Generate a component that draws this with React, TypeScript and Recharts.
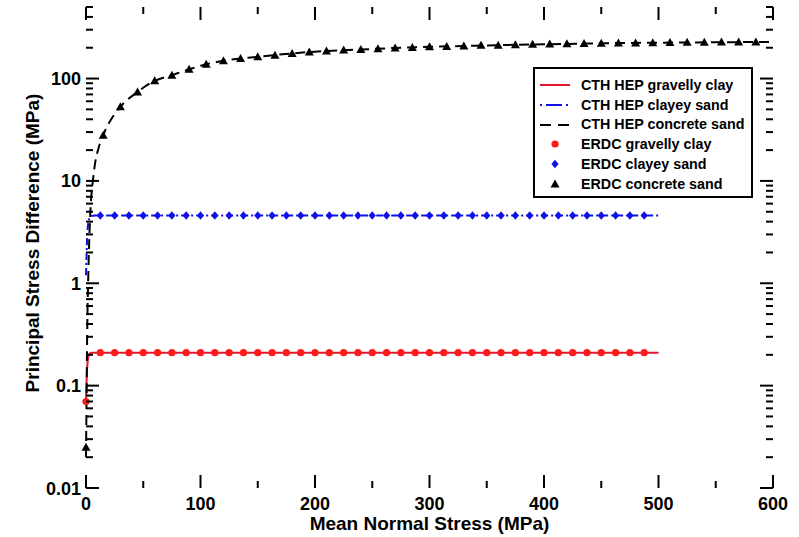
import React from 'react';
import { ComposedChart, Line, Scatter, XAxis, YAxis, Legend } from 'recharts';

// axis ticks
const xTicks = [0, 50, 100, 150, 200, 250, 300, 350, 400, 450, 500, 550, 600];
const xLabeled = [0, 100, 200, 300, 400, 500, 600];
const yMajor = [0.01, 0.1, 1, 10, 100];
const yTicks = yMajor
  .flatMap((d) => [1, 2, 3, 4, 5, 6, 7, 8, 9].map((k) => +(k * d).toPrecision(3)))
  .filter((v) => v <= 500);
const X_MIN = 0;
const X_MAX = 600;
const Y_MIN = 0.01;
const Y_MAX = 500;

// CTH HEP model curves
const cthGravellyX = [0, 1, 2, 3, 5, 500];
const cthGravellyY = [0.07, 0.15, 0.19, 0.205, 0.21, 0.21];

const cthClayeyX = [0, 1, 2, 4, 8, 500];
const cthClayeyY = [1.2, 2.8, 3.9, 4.5, 4.6, 4.6];

const cthConcreteX = [0, 0.5, 1, 2, 3, 4, 6, 8, 11, 15, 22, 30, 45, 60, 75, 90, 105, 120, 150, 180, 210, 240, 270, 300, 330, 360, 400, 450, 500, 550, 600];
const cthConcreteY = [0.02, 0.08, 0.3, 1.2, 3, 5.5, 10, 15, 21, 28, 40, 53, 74, 95, 108, 123, 138, 149, 163, 176, 186, 192, 199, 204, 208, 212, 216, 221, 224, 226, 228];

// ERDC test points
const erdcGravellyX = [0, 12.5, 25, 37.5, 50, 62.5, 75, 87.5, 100, 112.5, 125, 137.5, 150, 162.5, 175, 187.5, 200, 212.5, 225, 237.5, 250, 262.5, 275, 287.5, 300, 312.5, 325, 337.5, 350, 362.5, 375, 387.5, 400, 412.5, 425, 437.5, 450, 462.5, 475, 487.5];
const erdcGravellyY = [0.07, 0.21, 0.21, 0.21, 0.21, 0.21, 0.21, 0.21, 0.21, 0.21, 0.21, 0.21, 0.21, 0.21, 0.21, 0.21, 0.21, 0.21, 0.21, 0.21, 0.21, 0.21, 0.21, 0.21, 0.21, 0.21, 0.21, 0.21, 0.21, 0.21, 0.21, 0.21, 0.21, 0.21, 0.21, 0.21, 0.21, 0.21, 0.21, 0.21];

const erdcClayeyX = [12.5, 25, 37.5, 50, 62.5, 75, 87.5, 100, 112.5, 125, 137.5, 150, 162.5, 175, 187.5, 200, 212.5, 225, 237.5, 250, 262.5, 275, 287.5, 300, 312.5, 325, 337.5, 350, 362.5, 375, 387.5, 400, 412.5, 425, 437.5, 450, 462.5, 475, 487.5];
const erdcClayeyY = [4.6, 4.6, 4.6, 4.6, 4.6, 4.6, 4.6, 4.6, 4.6, 4.6, 4.6, 4.6, 4.6, 4.6, 4.6, 4.6, 4.6, 4.6, 4.6, 4.6, 4.6, 4.6, 4.6, 4.6, 4.6, 4.6, 4.6, 4.6, 4.6, 4.6, 4.6, 4.6, 4.6, 4.6, 4.6, 4.6, 4.6, 4.6, 4.6];

const erdcConcreteX = [0, 15, 30, 45, 60, 75, 90, 105, 120, 135, 150, 165, 180, 195, 210, 225, 240, 255, 270, 285, 300, 315, 330, 345, 360, 375, 390, 405, 420, 435, 450, 465, 480, 495, 510, 525, 540, 555, 570, 585];
const erdcConcreteY = [0.025, 28, 53, 74, 95, 108, 123, 138, 149, 157, 163, 169, 176, 182, 186, 190, 192, 196, 199, 201, 204, 206, 208, 211, 212, 214, 216, 217, 219, 220, 221, 222, 223, 224, 225, 226, 226, 227, 228, 228];

const toPoints = (xs: number[], ys: number[]) => xs.map((x, i) => ({ x, y: ys[i] }));

const RED = '#e3162f';
const RED_DOT = '#ff1a1a';
const BLUE = '#1010e8';
const FONT = '"Liberation Sans", Arial, Helvetica, sans-serif';
const axisLine = { stroke: '#000', strokeWidth: 2 };

// inward tick marks (and tick labels) along the frame, one scatter per side
const bottomTicks = xTicks.map((x) => ({ x, y: Y_MIN, major: xLabeled.includes(x) }));
const topTicks = xTicks.map((x) => ({ x, y: Y_MAX, major: xLabeled.includes(x) }));
const leftTicks = yTicks.map((y) => ({ x: X_MIN, y, major: yMajor.includes(y) }));
const rightTicks = yTicks.map((y) => ({ x: X_MAX, y, major: yMajor.includes(y) }));

const tickLen = (p: any) => (p.payload && p.payload.major ? 13 : 7);

const upTick = (p: any) => (
  <g>
    <rect x={p.cx - 1} y={p.cy - tickLen(p)} width={2} height={tickLen(p)} fill="#000" />
    {p.payload.major && (
      <text x={p.cx} y={p.cy + 22} textAnchor="middle" fontFamily={FONT} fontWeight="bold" fontSize={18} fill="#000">
        {String(p.payload.x)}
      </text>
    )}
  </g>
);
const downTick = (p: any) => <path d={`M${p.cx},${p.cy}v${tickLen(p)}`} stroke="#000" strokeWidth={2} fill="none" />;
const rightwardTick = (p: any) => (
  <g>
    <rect x={p.cx} y={p.cy - 1} width={tickLen(p)} height={2} fill="#000" />
    {p.payload.major && (
      <text x={p.cx - 5} y={p.cy + 6.5} textAnchor="end" fontFamily={FONT} fontWeight="bold" fontSize={18} fill="#000">
        {String(p.payload.y)}
      </text>
    )}
  </g>
);
const leftwardTick = (p: any) => <path d={`M${p.cx},${p.cy}h${-tickLen(p)}`} stroke="#000" strokeWidth={2} fill="none" />;

const circleDot = (p: any) => <circle cx={p.cx} cy={p.cy} r={3.6} fill={RED_DOT} />;
const diamondDot = (p: any) => (
  <path d={`M${p.cx},${p.cy - 4.2}L${p.cx + 3.6},${p.cy}L${p.cx},${p.cy + 4.2}L${p.cx - 3.6},${p.cy}Z`} fill={BLUE} />
);
const triangleDot = (p: any) => (
  <path d={`M${p.cx},${p.cy - 4.5}L${p.cx + 4.5},${p.cy + 3.5}L${p.cx - 4.5},${p.cy + 3.5}Z`} fill="#000" />
);

const legendRows = [
  { label: 'CTH HEP gravelly clay', line: RED, dash: undefined as string | undefined, mark: null as null | string },
  { label: 'CTH HEP clayey sand', line: BLUE, dash: '2 4 16 4', mark: null },
  { label: 'CTH HEP concrete sand', line: '#000', dash: '11 7', mark: null },
  { label: 'ERDC gravelly clay', line: null, dash: undefined, mark: 'circle' },
  { label: 'ERDC clayey sand', line: null, dash: undefined, mark: 'diamond' },
  { label: 'ERDC concrete sand', line: null, dash: undefined, mark: 'triangle' },
];

const LegendBox = () => (
  <div style={{ border: '2px solid #000', background: '#fff', padding: '6px 0 2px 0', width: 216 }}>
    {legendRows.map((r) => (
      <div key={r.label} style={{ display: 'flex', alignItems: 'center', height: 19.8 }}>
        <svg width={46} height={19.8} style={{ flex: 'none' }}>
          {r.line && <line x1={5} y1={10} x2={35} y2={10} stroke={r.line} strokeWidth={2} strokeDasharray={r.dash} />}
          {r.mark === 'circle' && circleDot({ cx: 20, cy: 10 })}
          {r.mark === 'diamond' && diamondDot({ cx: 20, cy: 10 })}
          {r.mark === 'triangle' && triangleDot({ cx: 20, cy: 10 })}
        </svg>
        <span style={{ fontFamily: FONT, fontWeight: 'bold', fontSize: 14.3, color: '#000', whiteSpace: 'nowrap' }}>{r.label}</span>
      </div>
    ))}
  </div>
);

const titleStyle: React.CSSProperties = {
  position: 'absolute',
  fontFamily: FONT,
  fontWeight: 'bold',
  fontSize: 19,
  lineHeight: '18px',
  color: '#000',
  whiteSpace: 'nowrap',
  textAlign: 'center',
  width: 400,
};

export default function App() {
  return (
    <div style={{ position: 'absolute', left: 0, top: 0, width: 799, height: 537, background: '#fff' }}>
      <ComposedChart width={799} height={537} margin={{ top: 7, right: 26, left: 86, bottom: 49 }}>
        <XAxis
          dataKey="x"
          type="number"
          domain={[X_MIN, X_MAX]}
          height={0}
          tick={false}
          tickLine={false}
          axisLine={axisLine}
        />
        <XAxis
          xAxisId="top"
          orientation="top"
          type="number"
          domain={[X_MIN, X_MAX]}
          height={0}
          tick={false}
          tickLine={false}
          axisLine={axisLine}
        />
        <YAxis
          type="number"
          scale="log"
          domain={[Y_MIN, Y_MAX]}
          width={0}
          tick={false}
          tickLine={false}
          axisLine={axisLine}
        />
        <YAxis
          yAxisId="right"
          orientation="right"
          type="number"
          scale="log"
          domain={[Y_MIN, Y_MAX]}
          width={0}
          tick={false}
          tickLine={false}
          axisLine={axisLine}
        />
        <Line
          data={toPoints(cthGravellyX, cthGravellyY)}
          dataKey="y"
          type="monotone"
          stroke={RED}
          strokeWidth={2}
          dot={false}
          isAnimationActive={false}
        />
        <Line
          data={toPoints(cthClayeyX, cthClayeyY)}
          dataKey="y"
          type="monotone"
          stroke={BLUE}
          strokeWidth={2}
          strokeDasharray="7 3 2 3"
          dot={false}
          isAnimationActive={false}
        />
        <Line
          data={toPoints(cthConcreteX, cthConcreteY)}
          dataKey="y"
          type="monotone"
          stroke="#000"
          strokeWidth={2}
          strokeDasharray="10 6"
          dot={false}
          isAnimationActive={false}
        />
        <Scatter data={toPoints(erdcGravellyX, erdcGravellyY)} dataKey="y" shape={circleDot} isAnimationActive={false} />
        <Scatter data={toPoints(erdcClayeyX, erdcClayeyY)} dataKey="y" shape={diamondDot} isAnimationActive={false} />
        <Scatter data={toPoints(erdcConcreteX, erdcConcreteY)} dataKey="y" shape={triangleDot} isAnimationActive={false} />
        <Scatter data={bottomTicks} dataKey="y" shape={upTick} isAnimationActive={false} legendType="none" />
        <Scatter data={topTicks} dataKey="y" shape={downTick} isAnimationActive={false} legendType="none" />
        <Scatter data={leftTicks} dataKey="y" shape={rightwardTick} isAnimationActive={false} legendType="none" />
        <Scatter data={rightTicks} dataKey="y" shape={leftwardTick} isAnimationActive={false} legendType="none" />
        <Legend
          layout="vertical"
          align="center"
          verticalAlign="middle"
          content={() => <LegendBox />}
          wrapperStyle={{ left: 533, top: 67, width: 220, height: 132 }}
        />
      </ComposedChart>
      <div style={{ ...titleStyle, left: 229.5, top: 515 }}>Mean Normal Stress (MPa)</div>
      <div style={{ ...titleStyle, left: 33 - 200, top: 243 - 9, transform: 'rotate(-90deg)' }}>
        Principal Stress Difference (MPa)
      </div>
    </div>
  );
}
